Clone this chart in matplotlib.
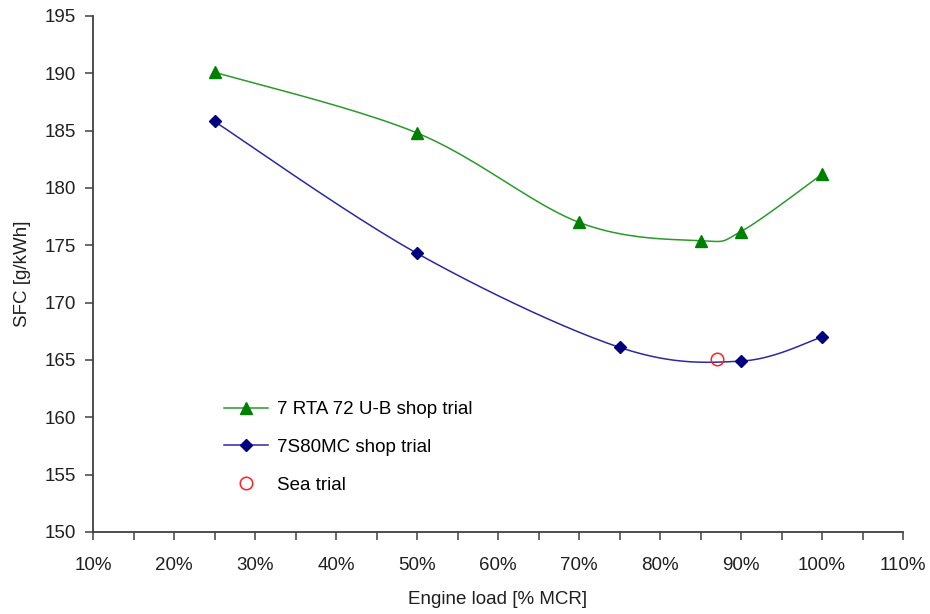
import numpy as np
import matplotlib
matplotlib.use("Agg")
import matplotlib.pyplot as plt
from matplotlib.ticker import MultipleLocator, FuncFormatter

plt.rcParams['font.family'] = ['Liberation Sans', 'DejaVu Sans']

# Engine load [% MCR] and specific fuel consumption [g/kWh]
rta_load = [25, 50, 70, 85, 90, 100]
rta_sfc = [190.1, 184.8, 177.0, 175.4, 176.2, 181.2]

mc_load = [25, 50, 75, 90, 100]
mc_sfc = [185.8, 174.3, 166.1, 164.9, 167.0]

sea_load = [87]
sea_sfc = [165.1]

x_ticks = list(range(10, 111, 10))
y_ticks = list(range(150, 196, 5))


def smooth(xs, ys, n=40):
    """Catmull-Rom style Bezier smoothing through the given points."""
    xs = np.asarray(xs, float)
    ys = np.asarray(ys, float)
    px = np.concatenate([[xs[0]], xs, [xs[-1]]])
    py = np.concatenate([[ys[0]], ys, [ys[-1]]])
    out_x, out_y = [], []
    t = np.linspace(0, 1, n)
    for i in range(1, len(px) - 2):
        p0 = np.array([px[i], py[i]])
        p3 = np.array([px[i + 1], py[i + 1]])
        c1 = p0 + (np.array([px[i + 1], py[i + 1]]) - np.array([px[i - 1], py[i - 1]])) / 6
        c2 = p3 - (np.array([px[i + 2], py[i + 2]]) - np.array([px[i], py[i]])) / 6
        b = ((1 - t) ** 3)[:, None] * p0 + (3 * (1 - t) ** 2 * t)[:, None] * c1 \
            + (3 * (1 - t) * t ** 2)[:, None] * c2 + (t ** 3)[:, None] * p3
        out_x.extend(b[:, 0])
        out_y.extend(b[:, 1])
    return out_x, out_y


fig = plt.figure(figsize=(9.3, 6.14), dpi=100)
ax = fig.add_axes([0.1, 0.1336, 0.871, 0.8404])

green = '#008000'
navy = '#000080'
fs = 13.5

sx, sy = smooth(rta_load, rta_sfc)
ax.plot(sx, sy, color='#2a9a2a', lw=1.1, zorder=2)
ax.plot(rta_load, rta_sfc, ls='none', marker='^', ms=8, color=green, zorder=3)

sx, sy = smooth(mc_load, mc_sfc)
ax.plot(sx, sy, color='#2a2aa0', lw=1.1, zorder=2)
ax.plot(mc_load, mc_sfc, ls='none', marker='D', ms=6, color=navy, zorder=3)

ax.plot(sea_load, sea_sfc, ls='none', marker='o', ms=9, mfc='none',
        mec='#ff2020', mew=1.1, zorder=4)

# Legend handles
h1, = ax.plot([], [], color='#2a9a2a', lw=1.1, marker='^', ms=8, mfc=green, mec=green)
h2, = ax.plot([], [], color='#2a2aa0', lw=1.1, marker='D', ms=6, mfc=navy, mec=navy)
h3, = ax.plot([], [], ls='none', marker='o', ms=9, mfc='none', mec='#ff2020', mew=1.1)
ax.legend([h1, h2, h3], ['7 RTA 72 U-B shop trial', '7S80MC shop trial', 'Sea trial'],
          loc='upper left', bbox_to_anchor=(0.153, 0.268), frameon=False,
          fontsize=fs, handlelength=2.3, labelspacing=1.1, handletextpad=0.5,
          borderaxespad=0.0)

ax.set_xlim(10, 110)
ax.set_ylim(150, 195)
ax.set_xticks(x_ticks)
ax.xaxis.set_minor_locator(MultipleLocator(5))
ax.xaxis.set_major_formatter(FuncFormatter(lambda v, p: f"{int(round(v))}%"))
ax.set_yticks(y_ticks)

for s in ['top', 'right']:
    ax.spines[s].set_visible(False)
for s in ['left', 'bottom']:
    ax.spines[s].set_color('#404040')
    ax.spines[s].set_linewidth(1.3)

ax.tick_params(axis='both', which='both', direction='out', color='#404040',
               labelsize=fs, labelcolor='#202020', width=1.1)
ax.tick_params(axis='x', which='major', length=6, pad=12)
ax.tick_params(axis='x', which='minor', length=6)
ax.tick_params(axis='y', length=6, pad=6)

ax.set_xlabel('Engine load [% MCR]', fontsize=fs, color='#202020', labelpad=12)
ax.set_ylabel('SFC [g/kWh]', fontsize=fs, color='#202020', labelpad=10)

fig.savefig('out.png', dpi=100)
